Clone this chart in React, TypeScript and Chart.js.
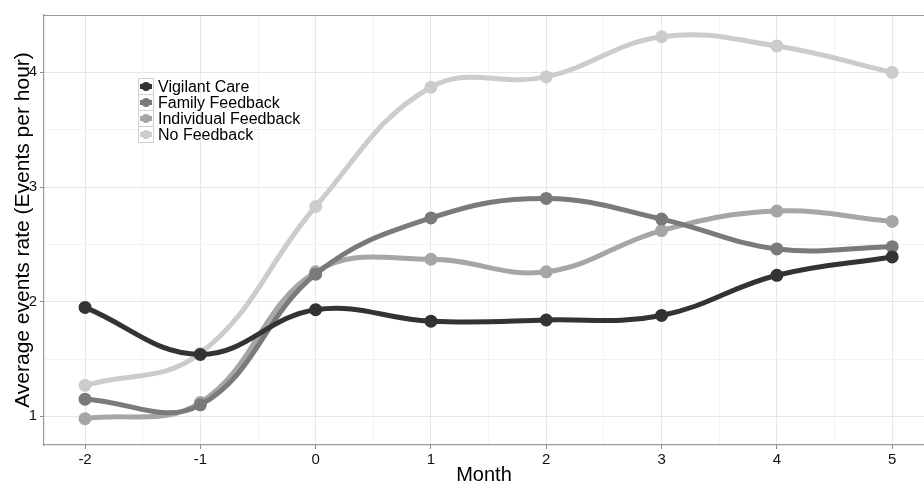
import React, { useEffect, useRef } from "react";
import { Chart, registerables } from "chart.js";

Chart.register(...registerables);

const months = [-2, -1, 0, 1, 2, 3, 4, 5];
const seriesNames = ["Vigilant Care", "Family Feedback", "Individual Feedback", "No Feedback"];
const vigilantCare = [1.95, 1.54, 1.93, 1.83, 1.84, 1.88, 2.23, 2.39];
const familyFeedback = [1.15, 1.1, 2.24, 2.73, 2.9, 2.72, 2.46, 2.48];
const individualFeedback = [0.98, 1.12, 2.26, 2.37, 2.26, 2.62, 2.79, 2.7];
const noFeedback = [1.27, 1.55, 2.83, 3.87, 3.96, 4.31, 4.23, 4.0];
const seriesColors = ["#333333", "#7a7a7a", "#a6a6a6", "#cccccc"];
const xTickValues = [-2, -1.5, -1, -0.5, 0, 0.5, 1, 1.5, 2, 2.5, 3, 3.5, 4, 4.5, 5];
const yTickValues = [1, 1.5, 2, 2.5, 3, 3.5, 4];

const FONT = "'Liberation Sans', Arial, sans-serif";

const isMajor = (v: number) => Math.abs(v - Math.round(v)) < 1e-6;

const frameAndLegend = {
  id: "frameAndLegend",
  afterDraw(chart: any) {
    const ctx = chart.ctx;
    const a = chart.chartArea;
    ctx.save();
    ctx.strokeStyle = "#9a9a9a";
    ctx.lineWidth = 1.2;
    ctx.beginPath();
    ctx.moveTo(a.left, a.top + 0.5);
    ctx.lineTo(a.right, a.top + 0.5);
    ctx.stroke();

    // legend
    const lx = 138;
    const ly = 78;
    const rowH = 16;
    const keyW = 15;
    seriesNames.forEach((name, i) => {
      const y0 = ly + i * rowH;
      ctx.fillStyle = "#ffffff";
      ctx.fillRect(lx, y0, keyW, rowH);
      ctx.strokeStyle = "#d0d0d0";
      ctx.lineWidth = 1;
      ctx.strokeRect(lx + 0.5, y0 + 0.5, keyW, rowH);
      const cy = y0 + rowH / 2 + 0.5;
      ctx.strokeStyle = seriesColors[i];
      ctx.lineWidth = 5;
      ctx.beginPath();
      ctx.moveTo(lx + 2, cy);
      ctx.lineTo(lx + keyW - 1, cy);
      ctx.stroke();
      ctx.fillStyle = seriesColors[i];
      ctx.beginPath();
      ctx.arc(lx + keyW / 2 + 0.5, cy, 4.5, 0, Math.PI * 2);
      ctx.fill();
      ctx.fillStyle = "#000000";
      ctx.font = `16px ${FONT}`;
      ctx.textBaseline = "middle";
      ctx.textAlign = "left";
      ctx.fillText(name, lx + keyW + 5, cy + 1);
    });
    ctx.restore();
  },
};

export default function App() {
  const ref = useRef<HTMLCanvasElement | null>(null);

  useEffect(() => {
    if (!ref.current) return;
    const allSeries = [vigilantCare, familyFeedback, individualFeedback, noFeedback];
    const chart = new Chart(ref.current, {
      type: "line",
      data: {
        datasets: allSeries.map((vals, i) => ({
          label: seriesNames[i],
          data: months.map((m, j) => ({ x: m, y: vals[j] })),
          borderColor: seriesColors[i],
          backgroundColor: seriesColors[i],
          pointBackgroundColor: seriesColors[i],
          pointBorderColor: seriesColors[i],
          borderWidth: 5,
          pointRadius: 4,
          tension: 0.4,
          fill: false,
        })),
      },
      options: {
        animation: false,
        responsive: true,
        maintainAspectRatio: false,
        layout: { autoPadding: false, padding: { top: 15, right: 0, left: 0, bottom: 0 } },
        plugins: {
          legend: { display: false },
          tooltip: { enabled: false },
        },
        scales: {
          x: {
            type: "linear",
            min: -2.356,
            max: 5.276,
            afterBuildTicks: (axis: any) => {
              axis.ticks = xTickValues.map((v) => ({ value: v }));
            },
            afterFit: (scale: any) => {
              scale.height = 39;
              scale.paddingRight = 0;
              scale.paddingLeft = 0;
            },
            grid: {
              color: (c: any) => (c.tick && isMajor(c.tick.value) ? "#e6e6e6" : "#f3f3f3"),
              tickColor: (c: any) => (c.tick && isMajor(c.tick.value) ? "#8a8a8a" : "rgba(0,0,0,0)"),
              tickLength: 4,
              lineWidth: 1,
            },
            border: { color: "#9a9a9a", width: 1.2 },
            ticks: {
              autoSkip: false,
              maxRotation: 0,
              padding: 2,
              color: "#111111",
              font: { family: FONT, size: 15 },
              callback: (v: any) => (isMajor(Number(v)) ? String(Math.round(Number(v))) : ""),
            },
            title: {
              display: true,
              text: "Month",
              color: "#000000",
              font: { family: FONT, size: 20 },
              padding: { top: 0, bottom: -3 },
            },
          },
          y: {
            type: "linear",
            min: 0.75,
            max: 4.5,
            afterBuildTicks: (axis: any) => {
              axis.ticks = yTickValues.map((v) => ({ value: v }));
            },
            afterFit: (scale: any) => {
              scale.width = 44;
            },
            grid: {
              color: (c: any) => (c.tick && isMajor(c.tick.value) ? "#e6e6e6" : "#f3f3f3"),
              tickColor: (c: any) => (c.tick && isMajor(c.tick.value) ? "#8a8a8a" : "rgba(0,0,0,0)"),
              tickLength: 4,
              lineWidth: 1,
            },
            border: { color: "#9a9a9a", width: 1.2 },
            ticks: {
              autoSkip: false,
              padding: 3,
              color: "#111111",
              font: { family: FONT, size: 15 },
              callback: (v: any) => (isMajor(Number(v)) ? String(Math.round(Number(v))) : ""),
            },
            title: {
              display: true,
              text: "Average events rate (Events per hour)",
              color: "#000000",
              font: { family: FONT, size: 21 },
              padding: { top: 11, bottom: 0 },
            },
          },
        },
      },
      plugins: [frameAndLegend],
    });
    return () => chart.destroy();
  }, []);

  return (
    <div style={{ position: "fixed", left: 0, top: 0, width: 924, height: 484, background: "#ffffff" }}>
      <canvas ref={ref} />
    </div>
  );
}
